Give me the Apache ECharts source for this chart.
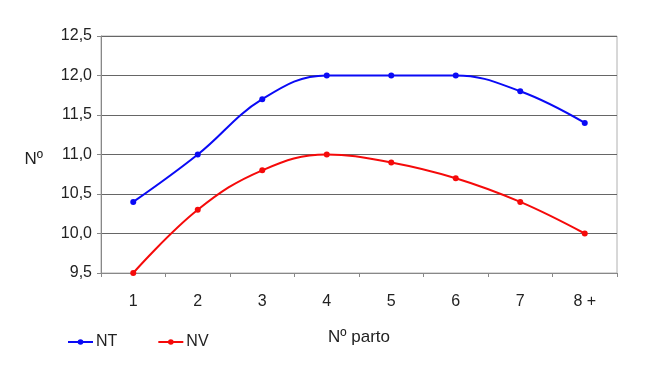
<!DOCTYPE html>
<html>
<head>
<meta charset="utf-8">
<script src="https://cdn.jsdelivr.net/npm/echarts@6/dist/echarts.min.js"></script>
<style>
html,body{margin:0;padding:0;background:#fff;}
#chart{width:650px;height:366px;}
</style>
</head>
<body>
<div id="chart"></div>
<script>
const categories = ['1', '2', '3', '4', '5', '6', '7', '8 +'];
const ntValues = [10.4, 11.0, 11.7, 12.0, 12.0, 12.0, 11.8, 11.4];
const nvValues = [9.5, 10.3, 10.8, 11.0, 10.9, 10.7, 10.4, 10.0];
const seriesNames = ['NT', 'NV'];
const xAxisTitle = 'Nº parto';
const yAxisTitle = 'Nº';

const FONT = '"Liberation Sans", Arial, sans-serif';
const chart = echarts.init(document.getElementById('chart'), null, {renderer: 'canvas'});
chart.setOption({
  animation: false,
  backgroundColor: '#ffffff',
  textStyle: {fontFamily: FONT},
  grid: {left: 101, right: 33, top: 36, bottom: 93, show: true, borderColor: '#b0b0b0', borderWidth: 1},
  legend: {
    left: 62, top: 329,
    itemWidth: 25, itemHeight: 7, itemGap: 40,
    textStyle: {fontFamily: FONT, fontSize: 16, color: '#222', padding: [0, 0, 0, -2]},
    data: seriesNames
  },
  xAxis: {
    type: 'category',
    data: categories,
    boundaryGap: true,
    name: xAxisTitle,
    nameLocation: 'middle',
    nameGap: 56,
    nameTextStyle: {fontFamily: FONT, fontSize: 17, color: '#222'},
    axisLine: {lineStyle: {color: '#888', width: 1}},
    axisTick: {show: true, length: 4, lineStyle: {color: '#888'}},
    axisLabel: {fontFamily: FONT, fontSize: 16, color: '#222', margin: 21},
    splitLine: {show: false}
  },
  yAxis: {
    type: 'value',
    min: 9.5, max: 12.5, interval: 0.5,
    name: yAxisTitle,
    nameLocation: 'middle',
    nameRotate: 0,
    nameGap: 58,
    nameTextStyle: {fontFamily: FONT, fontSize: 17, color: '#222', verticalAlign: 'top', lineHeight: 10},
    axisLine: {show: true, lineStyle: {color: '#888', width: 1}},
    axisTick: {show: true, length: 4, lineStyle: {color: '#888'}},
    axisLabel: {
      fontFamily: FONT, fontSize: 16, color: '#222', margin: 9,
      formatter: v => v.toFixed(1).replace('.', ',')
    },
    splitLine: {show: true, lineStyle: {color: '#666', width: 1}}
  },
  series: [
    {
      name: seriesNames[0], type: 'line', data: ntValues,
      smooth: 0.4, symbol: 'circle', symbolSize: 6,
      lineStyle: {color: '#0a0af5', width: 2},
      itemStyle: {color: '#0a0af5'}
    },
    {
      name: seriesNames[1], type: 'line', data: nvValues,
      smooth: 0.4, symbol: 'circle', symbolSize: 6,
      lineStyle: {color: '#f50a0a', width: 2},
      itemStyle: {color: '#f50a0a'}
    }
  ]
});
</script>
</body>
</html>
